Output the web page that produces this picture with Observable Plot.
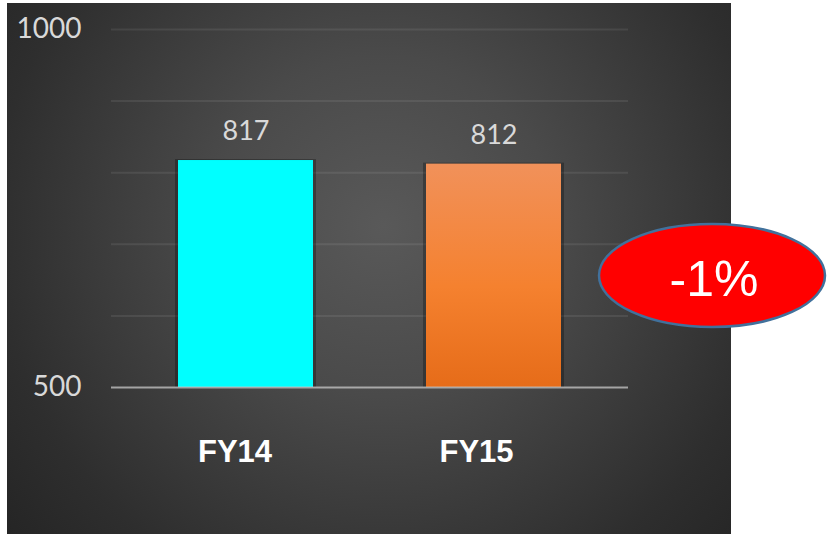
<!DOCTYPE html>
<html>
<head>
<meta charset="utf-8">
<script src="https://cdn.jsdelivr.net/npm/d3@7"></script>
<script src="https://cdn.jsdelivr.net/npm/@observablehq/plot@0.6"></script>
<style>
  html, body { margin: 0; padding: 0; background: #ffffff; }
  #wrap { position: relative; width: 828px; height: 534px; overflow: hidden; }
  #panel {
    position: absolute; left: 7px; top: 3px; width: 724px; height: 531px;
    background: radial-gradient(circle farthest-corner at 52% 42%, #595959 0%, #4a4a4a 35%, #2e2e2e 80%, #252525 100%);
  }
  #chart { position: absolute; left: 0; top: 0; }
</style>
</head>
<body>
<div id="wrap"><div id="panel"></div><div id="chart"></div></div>
<script>
// ---- data ----
const categories = ["FY14", "FY15"];
const values = [817, 812];
const yDomain = [500, 1000];
const yTicks = [500, 1000];
const gridValues = [600, 700, 800, 900, 1000];
const baseline = 500;

const data = categories.map((c, i) => ({ category: c, value: values[i] }));
const change = (values[1] - values[0]) / values[0];
const changeLabel = Math.round(change * 100) + "%";

const defs = () => {
  const d = d3.create("svg:defs");
  const g = d.append("linearGradient").attr("id", "fy15Grad")
    .attr("x1", 0).attr("y1", 0).attr("x2", 0).attr("y2", 1);
  g.append("stop").attr("offset", "0%").attr("stop-color", "#f1915a");
  g.append("stop").attr("offset", "55%").attr("stop-color", "#f5812f");
  g.append("stop").attr("offset", "100%").attr("stop-color", "#e66c19");
  const f = d.append("filter").attr("id", "barShadow")
    .attr("x", "-30%").attr("y", "-30%").attr("width", "160%").attr("height", "160%");
  f.append("feGaussianBlur").attr("stdDeviation", 2.5);
  return d.node();
};

const barFill = d => d.category === "FY15" ? "url(#fy15Grad)" : "#00ffff";

const chart = Plot.plot({
  width: 828,
  height: 534,
  marginLeft: 111,
  marginRight: 200,
  marginTop: 29,
  marginBottom: 147,
  style: { background: "transparent", fontFamily: "Lato", overflow: "visible" },
  x: { domain: categories, paddingInner: 0.457, paddingOuter: 0.269, axis: null },
  y: { domain: yDomain, axis: null },
  color: { type: "identity" },
  marks: [
    defs,
    Plot.ruleY(gridValues, { stroke: "#ffffff", strokeOpacity: 0.08, strokeWidth: 2 }),
    Plot.barY(data, { x: "category", y1: baseline, y2: "value", fill: "#000000", fillOpacity: 0.28,
      insetLeft: -3, insetRight: -3, insetTop: -1, ariaLabel: "bar-shadow" }),
    Plot.barY(data, { x: "category", y1: baseline, y2: "value", fill: barFill, ariaLabel: "bars" }),
    Plot.ruleY([baseline], { stroke: "#c8c8c8", strokeOpacity: 0.75, strokeWidth: 2 }),
    Plot.text(data, { x: "category", y: "value", text: d => String(d.value), dy: -20.5,
      lineAnchor: "bottom", fontSize: 27, fill: "#d9d9d9", fontFamily: "Lato" }),
    Plot.axisY(yTicks, { tickSize: 0, tickPadding: 30, fontSize: 28, color: "#d9d9d9",
      fontFamily: "Lato", label: null, tickFormat: d => String(d) }),
    Plot.text(data.filter(d => d.category === "FY14"), { x: "category", frameAnchor: "bottom",
      dy: 74, dx: -11, lineAnchor: "bottom", text: "category", fontSize: 31, fontWeight: "bold",
      fill: "#ffffff", fontFamily: "Liberation Sans" }),
    Plot.text(data.filter(d => d.category === "FY15"), { x: "category", frameAnchor: "bottom",
      dy: 74, dx: -17.5, lineAnchor: "bottom", text: "category", fontSize: 31, fontWeight: "bold",
      fill: "#ffffff", fontFamily: "Liberation Sans" })
  ]
});

const svg = d3.select(chart);
svg.selectAll("g")
  .filter(function () { return this.getAttribute("aria-label") === "bar-shadow"; })
  .attr("filter", "url(#barShadow)");

// change badge
const badge = svg.append("g").attr("aria-label", "change-badge");
badge.append("ellipse")
  .attr("cx", 712).attr("cy", 275.5).attr("rx", 113).attr("ry", 51.5)
  .attr("fill", "#ff0000").attr("stroke", "#41719c").attr("stroke-width", 2.5);
badge.append("text")
  .attr("x", 714).attr("y", 296).attr("text-anchor", "middle")
  .attr("font-family", "Liberation Sans, Arial, sans-serif").attr("font-size", 50)
  .attr("fill", "#ffffff").text(changeLabel);

document.getElementById("chart").appendChild(chart);
</script>
</body>
</html>
